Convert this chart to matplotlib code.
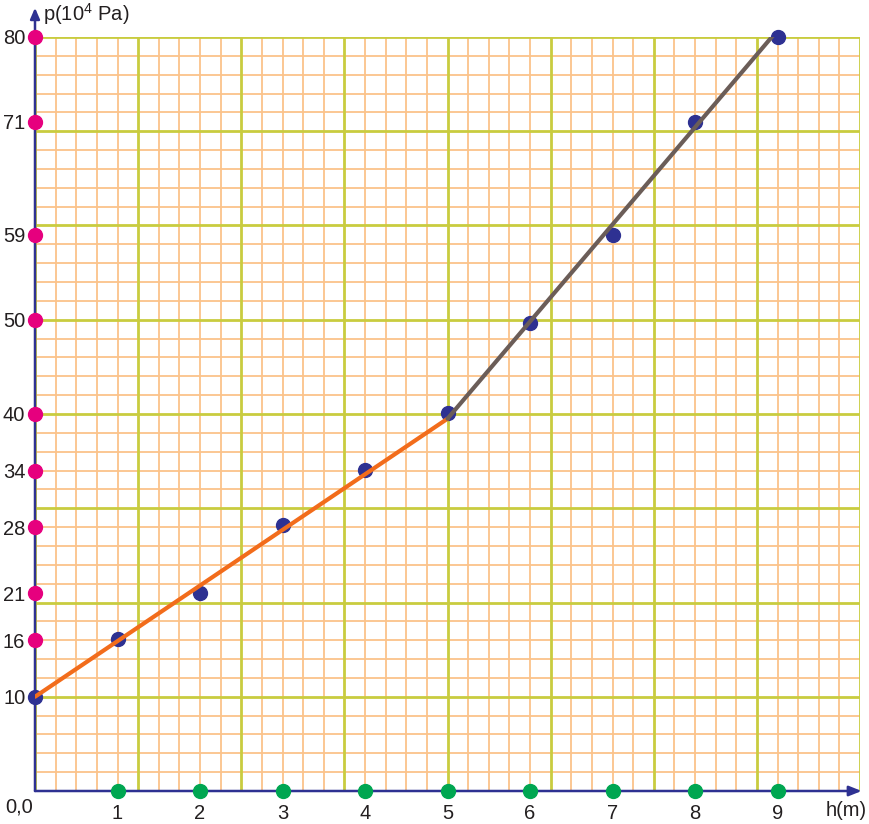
import matplotlib
matplotlib.use('Agg')
import matplotlib.pyplot as plt
import numpy as np

plt.rcParams['font.family'] = ['Liberation Sans', 'DejaVu Sans']
plt.rcParams['mathtext.fontset'] = 'custom'
plt.rcParams['mathtext.rm'] = 'Liberation Sans'

# ---- data ----
h_values = [0, 1, 2, 3, 4, 5, 6, 7, 8, 9]
p_values = [10, 16.1, 21, 28.2, 34.1, 40.1, 49.7, 59, 71, 80]
fit1_h = [0, 5]
fit1_p = [10, 39.5]
fit2_h = [5, 8.95]
fit2_p = [39.5, 80.2]
y_tick_values = [16, 21, 28, 34, 40, 50, 59, 71, 80]
y_tick_labels = ['16', '21', '28', '34', '40', '50', '59', '71', '80']
y_start_value = [10]
x_tick_values = [1, 2, 3, 4, 5, 6, 7, 8, 9]
x_tick_labels = ['1', '2', '3', '4', '5', '6', '7', '8', '9']

NAVY = '#2e3192'
PINK = '#e6007e'
GREEN = '#00a651'
ORANGE = '#f26c1b'
GRAY = '#6b5d58'
MINOR = '#fbc38a'
MAJOR = '#c9cc3f'
TXT = '#231f20'
FS = 14.5

W, H = 869, 824
fig = plt.figure(figsize=(W / 100, H / 100), dpi=100)
ax = fig.add_axes([35 / W, 33 / H, 825 / W, 754 / H])
ax.set_xlim(0, 10)
ax.set_ylim(0, 80)
for s in ax.spines.values():
    s.set_visible(False)
ax.set_facecolor('white')

# grid
for x in np.arange(0, 10.001, 0.25):
    if abs(x / 1.25 - round(x / 1.25)) > 1e-6:
        ax.axvline(x, color=MINOR, lw=1.3, zorder=1)
for y in np.arange(0, 80.001, 2):
    if y % 10 != 0:
        ax.axhline(y, color=MINOR, lw=1.3, zorder=1)
for x in np.arange(0, 10.001, 1.25):
    ax.axvline(x, color=MAJOR, lw=2.0, zorder=1.5)
for y in np.arange(10, 80.001, 10):
    ax.axhline(y, color=MAJOR, lw=2.0, zorder=1.5)

# axes with arrows
ax.annotate('', xy=(0, 83.1), xytext=(0, 0),
            arrowprops=dict(arrowstyle='-|>,head_length=0.65,head_width=0.28',
                            color=NAVY, lw=1.8, shrinkA=0, shrinkB=0),
            annotation_clip=False, zorder=5)
ax.annotate('', xy=(10.02, 0), xytext=(0, 0),
            arrowprops=dict(arrowstyle='-|>,head_length=0.75,head_width=0.3',
                            color=NAVY, lw=1.8, shrinkA=0, shrinkB=0),
            annotation_clip=False, zorder=5)

# axis marker dots
ax.plot([0] * len(y_tick_values), y_tick_values, 'o', color=PINK, ms=10,
        clip_on=False, zorder=6)
ax.plot(x_tick_values, [0] * len(x_tick_values), 'o', color=GREEN, ms=10,
        clip_on=False, zorder=6)

# data points and fit lines
ax.plot(h_values, p_values, 'o', color=NAVY, ms=10, clip_on=False, zorder=6)
ax.plot(fit1_h, fit1_p, color=ORANGE, lw=3.0, solid_capstyle='round', zorder=7)
ax.plot(fit2_h, fit2_p, color=GRAY, lw=3.0, solid_capstyle='round', zorder=7)

# ticks
ax.set_yticks(y_start_value + y_tick_values)
ax.set_yticklabels(['10'] + y_tick_labels)
ax.set_xticks(x_tick_values)
ax.set_xticklabels(x_tick_labels)
ax.tick_params(axis='y', length=0, pad=7, labelsize=FS, labelcolor=TXT)
ax.tick_params(axis='x', length=0, pad=9.5, labelsize=FS, labelcolor=TXT)

fig.text(5 / W, 1 - 807 / H, '0,0', fontsize=FS, color=TXT, ha='left', va='center')
fig.text(826 / W, 1 - 810 / H, 'h(m)', fontsize=FS, color=TXT, ha='left', va='center')
fig.text(43 / W, 1 - 14 / H, r'p(10$^{\mathrm{4}}$ Pa)', fontsize=FS, color=TXT,
         ha='left', va='center')

fig.savefig('out.png', dpi=100, facecolor='white')
